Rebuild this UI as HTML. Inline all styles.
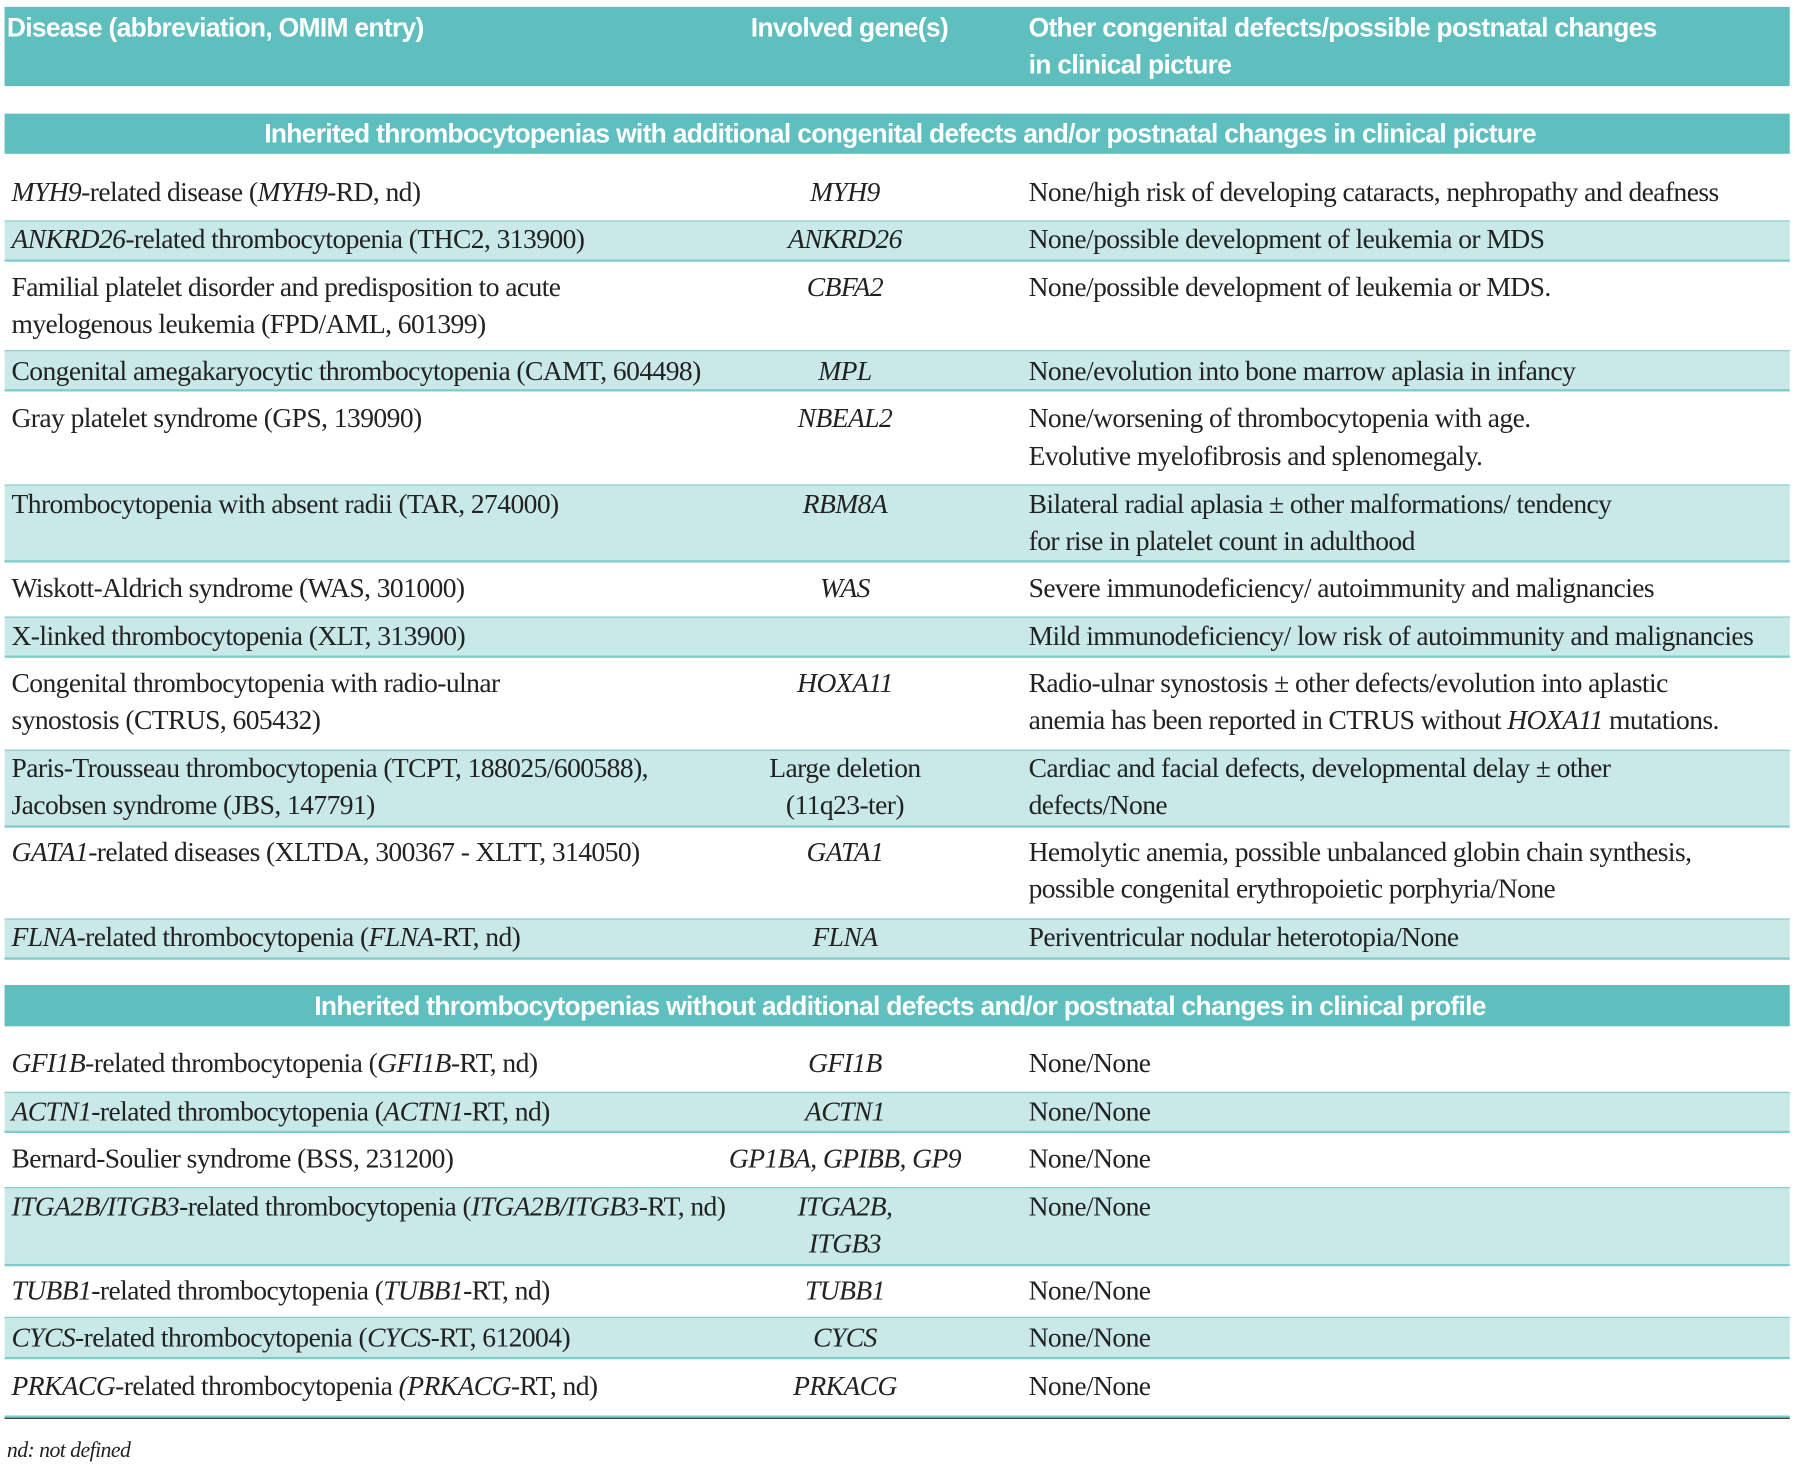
<!DOCTYPE html>
<html><head><meta charset="utf-8"><style>
html,body{margin:0;padding:0;background:#fff;}
body{width:1800px;height:1470px;overflow:hidden;position:relative;}
#wrap{position:absolute;left:0;top:0;width:1568px;height:1281px;transform:scale(1.148);transform-origin:0 0;}
.bar{position:absolute;left:4px;width:1555px;background:#5fbfbf;}
.hd{position:absolute;color:#fff;font-family:"Liberation Sans",sans-serif;font-weight:bold;font-size:23px;letter-spacing:-0.6px;line-height:32px;white-space:nowrap;}
.shade{position:absolute;left:4px;width:1555px;background:#c9e9e9;}
.ln{position:absolute;left:4px;width:1555px;height:2px;background:#7fcaca;}
.t{position:absolute;font-family:"Liberation Serif",serif;font-size:24px;letter-spacing:-0.5px;color:#222;white-space:nowrap;line-height:28px;}
</style></head><body>
<div id="wrap">
<div class="bar" style="top:6px;height:69px"></div>
<div class="hd" style="left:6px;top:8px">Disease (abbreviation, OMIM entry)</div>
<div class="hd" style="left:654px;top:8px">Involved gene(s)</div>
<div class="hd" style="left:896px;top:8px">Other congenital defects/possible postnatal changes<br>in clinical picture</div>
<div class="bar" style="top:99px;height:35px"></div>
<div class="hd" style="left:0;width:1568px;text-align:center;top:100px">Inherited thrombocytopenias with additional congenital defects and/or postnatal changes in clinical picture</div>
<div class="bar" style="top:858px;height:36px"></div>
<div class="hd" style="left:0;width:1568px;text-align:center;top:860px">Inherited thrombocytopenias without additional defects  and/or postnatal changes in clinical profile</div>
<div style="position:absolute;left:4px;width:1555px;top:1234px;height:2px;background:#333"></div>
<div class="t" style="left:6px;top:1250px;font-size:19px;font-style:italic">nd: not defined</div>
</div>
<script>
const rows=[
[147,193,0,[167],["<i>MYH9</i>-related disease (<i>MYH9</i>-RD, nd)"],["<i>MYH9</i>"],["None/high risk of developing cataracts, nephropathy and deafness"]],
[193,227,1,[208],["<i>ANKRD26</i>-related thrombocytopenia (THC2, 313900)"],["<i>ANKRD26</i>"],["None/possible development of leukemia or MDS"]],
[227,306,0,[250,282],["Familial platelet disorder and predisposition to acute","myelogenous leukemia (FPD/AML, 601399)"],["<i>CBFA2</i>"],["None/possible development of leukemia or MDS."]],
[306,340,1,[323],["Congenital amegakaryocytic thrombocytopenia (CAMT, 604498)"],["<i>MPL</i>"],["None/evolution into bone marrow aplasia in infancy"]],
[340,423,0,[364,397],["Gray platelet syndrome (GPS, 139090)"],["<i>NBEAL2</i>"],["None/worsening of thrombocytopenia with age.","Evolutive myelofibrosis and splenomegaly."]],
[423,489,1,[439,471],["Thrombocytopenia with absent radii (TAR, 274000)"],["<i>RBM8A</i>"],["Bilateral radial aplasia ± other malformations/ tendency","for rise in platelet count in adulthood"]],
[489,538,0,[512],["Wiskott-Aldrich syndrome (WAS, 301000)"],["<i>WAS</i>"],["Severe immunodeficiency/ autoimmunity and malignancies"]],
[538,572,1,[554],["X-linked thrombocytopenia (XLT, 313900)"],[""],["Mild immunodeficiency/ low risk of autoimmunity and malignancies"]],
[572,654,0,[595,627],["Congenital thrombocytopenia with radio-ulnar","synostosis (CTRUS, 605432)"],["<i>HOXA11</i>"],["Radio-ulnar synostosis ± other defects/evolution into aplastic","anemia has been reported in CTRUS without <i>HOXA11</i> mutations."]],
[654,720,1,[669,701],["Paris-Trousseau thrombocytopenia (TCPT, 188025/600588),","Jacobsen syndrome (JBS, 147791)"],["Large deletion","(11q23-ter)"],["Cardiac and facial defects, developmental delay ±  other","defects/None"]],
[720,801,0,[742,774],["<i>GATA1</i>-related diseases (XLTDA, 300367 -  XLTT, 314050)"],["<i>GATA1</i>"],["Hemolytic anemia, possible unbalanced globin chain synthesis,","possible congenital erythropoietic porphyria/None"]],
[801,835,1,[816],["<i>FLNA</i>-related thrombocytopenia (<i>FLNA</i>-RT, nd)"],["<i>FLNA</i>"],["Periventricular nodular heterotopia/None"]],
[904,952,0,[926],["<i>GFI1B</i>-related thrombocytopenia (<i>GFI1B</i>-RT, nd)"],["<i>GFI1B</i>"],["None/None"]],
[952,986,1,[968],["<i>ACTN1</i>-related thrombocytopenia (<i>ACTN1</i>-RT, nd)"],["<i>ACTN1</i>"],["None/None"]],
[986,1035,0,[1009],["Bernard-Soulier syndrome (BSS, 231200)"],["<i>GP1BA</i>, <i>GPIBB</i>, <i>GP9</i>"],["None/None"]],
[1035,1102,1,[1051,1083],["<i>ITGA2B/ITGB3</i>-related thrombocytopenia (<i>ITGA2B/ITGB3</i>-RT, nd)"],["<i>ITGA2B</i>,","<i>ITGB3</i>"],["None/None"]],
[1102,1148,0,[1124],["<i>TUBB1</i>-related thrombocytopenia (<i>TUBB1</i>-RT, nd)"],["<i>TUBB1</i>"],["None/None"]],
[1148,1183,1,[1165],["<i>CYCS</i>-related thrombocytopenia (<i>CYCS</i>-RT, 612004)"],["<i>CYCS</i>"],["None/None"]],
[1183,1234,0,[1207],["<i>PRKACG</i>-related thrombocytopenia <i>(PRKACG</i>-RT, nd)"],["<i>PRKACG</i>"],["None/None"]]
];
const W=document.getElementById('wrap');
rows.forEach((r,i)=>{
  if(r[2]){const s=document.createElement('div');s.className='shade';s.style.top=r[0]+'px';s.style.height=(r[1]-r[0])+'px';
    
    
    W.appendChild(s);}
  const l=document.createElement('div');l.className='ln';l.style.top=(r[1]-1)+'px';
  
  
  W.appendChild(l);
  const cols=[[r[4],10,'left'],[r[5],736,'center'],[r[6],896,'left']];
  cols.forEach((c,ci)=>{
    c[0].forEach((txt,k)=>{
      if(!txt)return;
      const d=document.createElement('div');d.className='t';d.innerHTML=txt;
      const y=r[3][k]!==undefined?r[3][k]:r[3][0]+32*k;
      d.style.top=(y-13)+'px';
      if(c[2]==='center'){d.style.left=(c[1]-150)+'px';d.style.width='300px';d.style.textAlign='center';}
      else d.style.left=c[1]+'px';
      if(ci===1&&!/[a-z]{3}/.test(txt.replace(/<[^>]+>/g,'')))d.style.fontStyle='italic';
      
      
      W.appendChild(d);
    });
  });
});
</script>
</body></html>
